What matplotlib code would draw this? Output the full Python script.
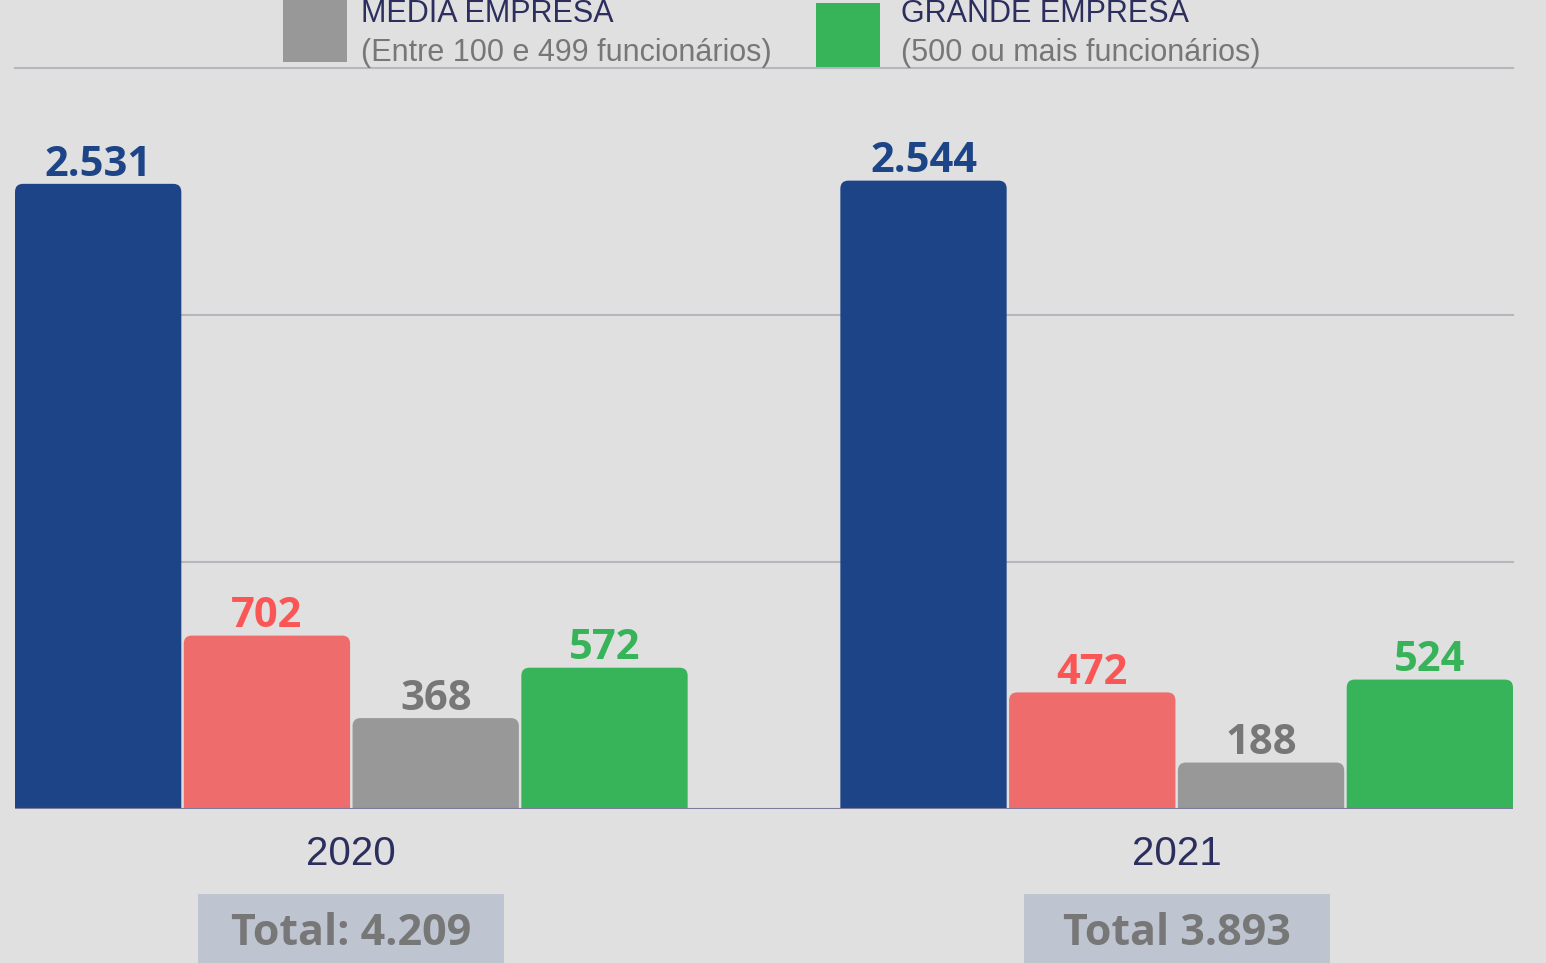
import numpy as np
import matplotlib
matplotlib.use('Agg')
import matplotlib.pyplot as plt
from matplotlib.patches import FancyBboxPatch, Rectangle
from matplotlib.transforms import blended_transform_factory

# data
years = ['2020', '2021']
series_names = ['Micro', 'Pequena', 'MEDIA EMPRESA', 'GRANDE EMPRESA']
micro = [2531, 2544]
pequena = [702, 472]
media = [368, 188]
grande = [572, 524]
totals = ['Total: 4.209', 'Total 3.893']
value_labels = [['2.531', '2.544'], ['702', '472'], ['368', '188'], ['572', '524']]

bar_colors = ['#1d4487', '#ee6c6c', '#989898', '#37b35a']
text_colors = ['#1d4487', '#fb5656', '#777777', '#37b35a']
navy = '#2c2f5e'
bg = '#e0e0e0'

W, H = 1546, 963
fig = plt.figure(figsize=(W / 100, H / 100), dpi=100, facecolor=bg)
ax = fig.add_axes([15 / W, (H - 809) / H, (1513 - 15) / W, (809 - 68) / H])
ax.set_facecolor(bg)

slot = 0.2045
bw = 0.2015
x = np.arange(len(years))
series = [micro, pequena, media, grande]

edge = 1.5 * slot + bw / 2
ax.set_xlim(-edge, 1 + edge)
ax.set_ylim(0, 3000)

# px -> data unit conversions for rounding the tops
xpp = (1 + 2 * edge) / (1513 - 15)
ypp = 3000 / (809 - 68)
rad = 8 * xpp
aspect = ypp / xpp

for i, vals in enumerate(series):
    pos = x + (i - 1.5) * slot
    bars = ax.bar(pos, vals, width=bw, color=bar_colors[i], zorder=3)
    for b, lab in zip(bars, value_labels[i]):
        b.set_visible(False)
        bx, by = b.get_x(), b.get_height()
        p = FancyBboxPatch((bx, -200), b.get_width(), by + 200,
                           boxstyle='round,pad=0,rounding_size=%f' % rad,
                           mutation_aspect=aspect, facecolor=bar_colors[i],
                           edgecolor='none', zorder=3)
        ax.add_patch(p)
        ax.annotate(lab, (bx + b.get_width() / 2, by), xytext=(0, 6),
                    textcoords='offset points', ha='center', va='baseline',
                    fontsize=30, fontweight='bold', family='Open Sans',
                    color=text_colors[i], zorder=4)

for gy in [1000, 2000]:
    ax.axhline(gy, xmin=0.003, xmax=1.0, color='#b6b6be', lw=1.5, zorder=1,
               clip_on=False)
ax.axhline(3000, color='#b6b6be', lw=1.5, zorder=1, clip_on=False)
ax.axhline(0, color='#7c7c9c', lw=1.5, zorder=5)

for s in ax.spines.values():
    s.set_visible(False)
ax.set_yticks([])
ax.set_xticks(x)
ax.set_xticklabels(years, fontsize=29, family='Liberation Sans', color=navy)
ax.tick_params(axis='x', length=0, pad=19)

# total boxes
tr = blended_transform_factory(ax.transData, fig.transFigure)
box_w = 306 * xpp
for xi, t in zip(x, totals):
    r = Rectangle((xi - box_w / 2, 0), box_w, (963 - 894) / H, transform=tr,
                  facecolor='#bec4d0', edgecolor='none', clip_on=False)
    fig.patches.append(r)
    r.set_figure(fig)
    fig.text(xi, (H - 933) / H, t, transform=tr, ha='center',
             va='center', fontsize=31, fontweight='bold', family='Open Sans',
             color='#777777')

# legend (top, partly cut off)
legend_items = [
    (283, 0, 62, '#989898', 'MEDIA EMPRESA', '(Entre 100 e 499 funcionários)', 361),
    (816, 3, 67, '#37b35a', 'GRANDE EMPRESA', '(500 ou mais funcionários)', 901),
]
for lx, ty, by, col, l1, l2, tx in legend_items:
    fig.patches.append(Rectangle((lx / W, (H - by) / H), 64 / W, (by - ty) / H,
                                 transform=fig.transFigure, facecolor=col,
                                 edgecolor='none'))
    fig.text(tx / W, (H - 22) / H, l1, ha='left', va='baseline', fontsize=22,
             family='Liberation Sans', color=navy)
    fig.text(tx / W, (H - 61) / H, l2, ha='left', va='baseline', fontsize=22,
             family='Liberation Sans', color='#777777')

fig.savefig('out.png', dpi=100, facecolor=bg)
